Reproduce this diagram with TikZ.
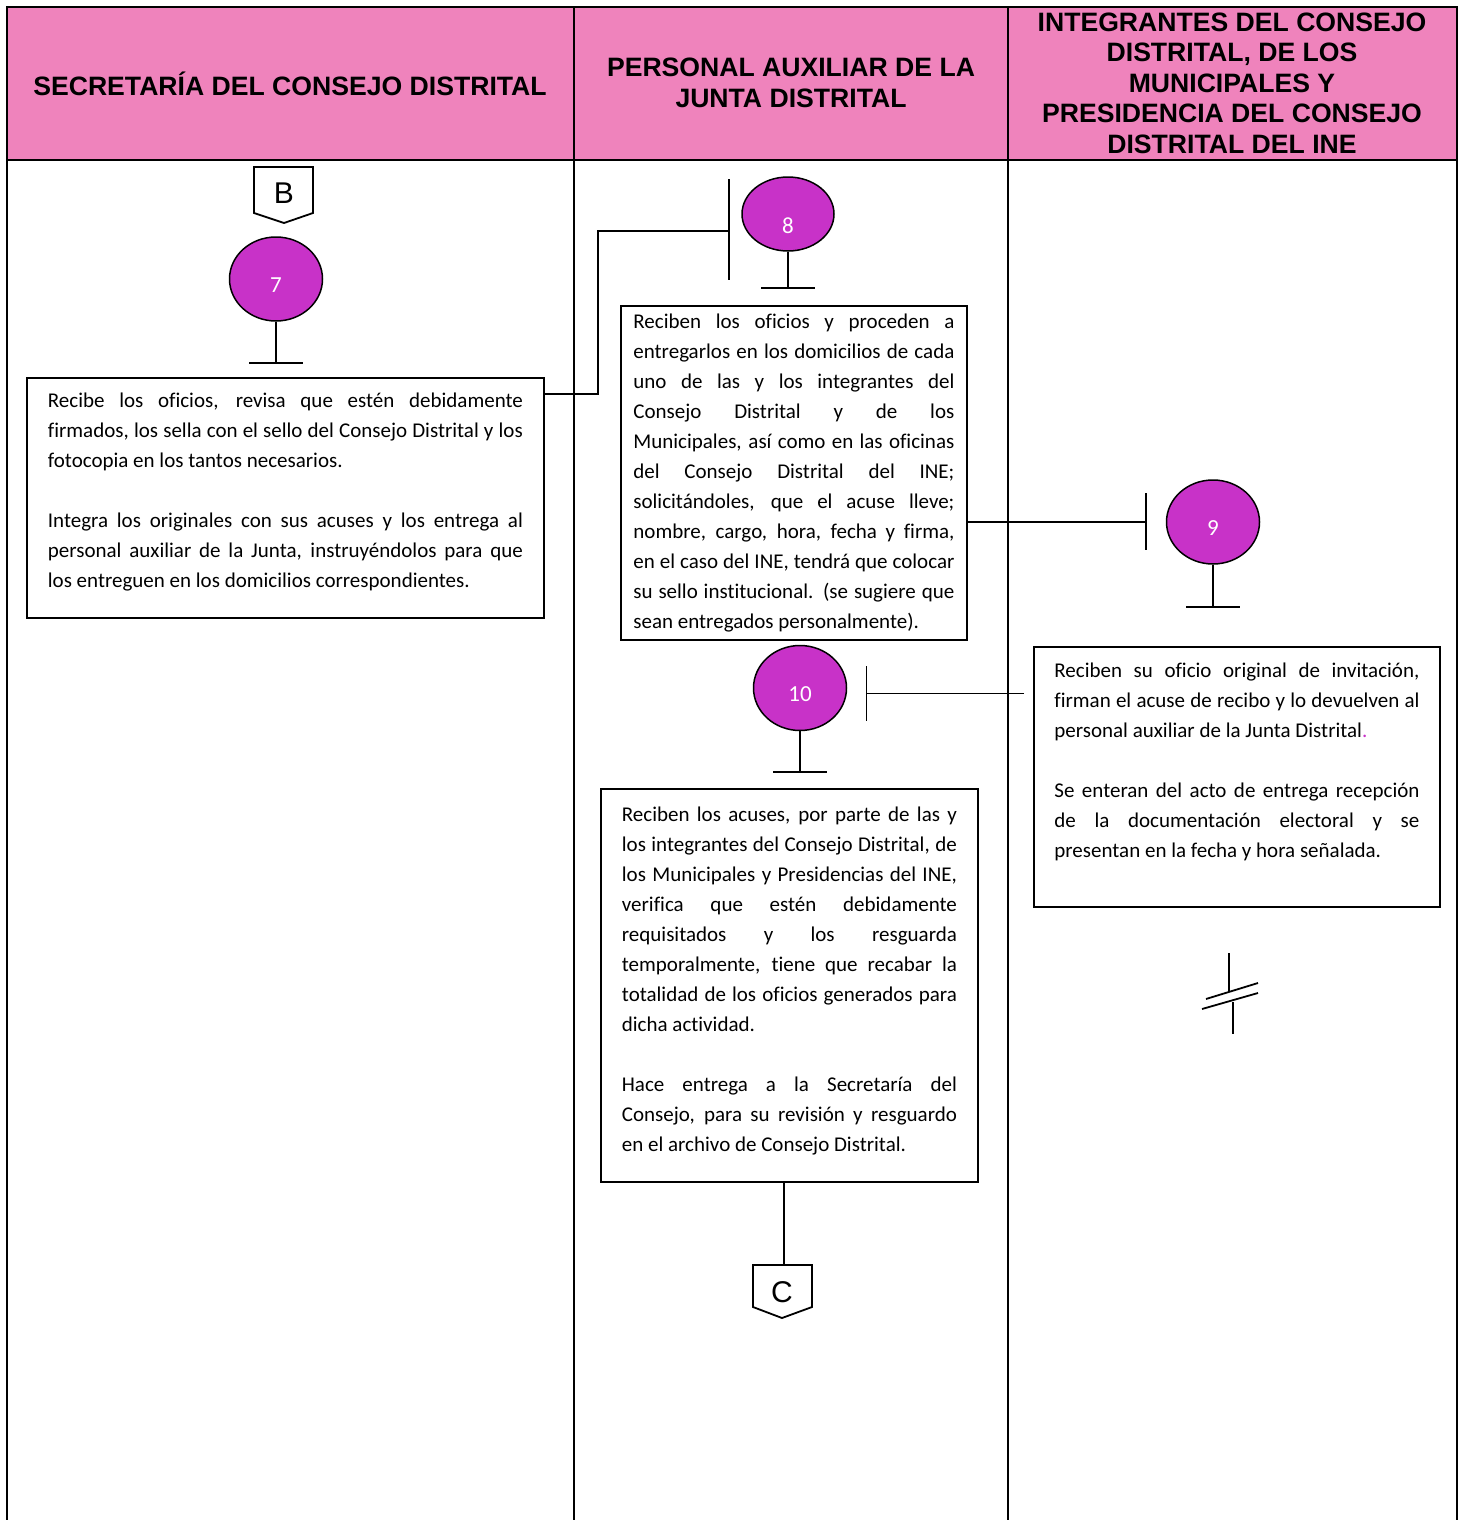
\documentclass[tikz,border=0pt]{standalone}
\usepackage{fontspec}
\usepackage{xcolor}
\usepackage{tikz}
\setmainfont{Liberation Sans}
\newfontfamily\calibri[Ligatures={NoCommon}]{Carlito}
\usetikzlibrary{shapes,positioning,calc}
\definecolor{rosa}{RGB}{239,131,188}
\definecolor{morado}{RGB}{200,50,200}
\setlength{\parindent}{0pt}
\tolerance=10000
\hyphenpenalty=10000

\begin{document}
\begin{tikzpicture}[x=1pt,y=-1pt,
    tabla/.style={line width=2pt},
    linea/.style={line width=1.8pt},
    fina/.style={line width=1pt},
    hdr/.style={align=center,font=\fontsize{26.6}{30.5}\selectfont\bfseries},
    paso/.style={ellipse,draw,line width=1.5pt,fill=morado,text=white,minimum width=93pt,minimum height=84pt,
        inner sep=0pt,text height=26pt,text depth=0pt,font=\calibri\fontsize{23}{23}\selectfont},
    proc/.style={draw,line width=1.8pt,anchor=north west,align=justify,inner ysep=8pt,
        font=\calibri\fontsize{21}{30}\selectfont},
    conector/.style={font=\fontsize{30}{30}\selectfont}]
    \useasboundingbox (0,0) rectangle (1460,1520);

    % Swimlanes
    \fill[rosa] (7,7) rectangle (1457,160);
    \draw[tabla] (7,1520) -- (7,7) -- (1457,7) -- (1457,1520);
    \draw[tabla] (7,160) -- (1457,160);
    \draw[tabla] (574,7) -- (574,1520);
    \draw[tabla] (1008,7) -- (1008,1520);
    \node[hdr] (h1) at (290,84) {SECRETARÍA DEL CONSEJO DISTRITAL};
    \node[hdr] (h2) at (791,83) {PERSONAL AUXILIAR DE LA\\JUNTA DISTRITAL};
    \node[hdr] (h3) at (1232,83) {INTEGRANTES DEL CONSEJO\\DISTRITAL, DE LOS\\MUNICIPALES Y\\PRESIDENCIA DEL CONSEJO\\DISTRITAL DEL INE};

    % Off-page connector B
    \node[conector] (B) at (284,193) {B};
    \draw[linea] (B) ++(-30,-26) -- ++(59,0) -- ++(0,46) -- ++(-29,10) -- ++(-30,-10) -- cycle;

    % Steps
    \node[paso] (s7) at (276,279) {7};
    \node[paso,minimum width=92pt,minimum height=74pt,text height=38pt] (s8) at (788,214) {8};
    \node[paso] (s9) at (1213,522) {9};
    \node[paso,minimum height=85pt] (s10) at (800,688) {10};
    \foreach \n/\l in {s7/41,s8/36,s9/42,s10/41} {
        \draw[linea] (\n.south) -- ++(0,\l) coordinate (t\n);
        \draw[linea] (t\n) ++(-27,0) -- ++(54,0);
    }

    % Activities
    \node[proc,text width=475pt,inner xsep=21pt,minimum height=240pt] (b1) at (26,377) {Recibe los oficios, revisa que estén debidamente\linebreak
        firmados, los sella con el sello del Consejo Distrital y los\linebreak
        fotocopia en los tantos necesarios.\par\vspace{30pt}
        Integra los originales con sus acuses y los entrega al\linebreak
        personal auxiliar de la Junta, instruyéndolos para que\linebreak
        los entreguen en los domicilios correspondientes.\rule[-15pt]{0pt}{1pt}};
    \node[proc,text width=321pt,inner xsep=12.5pt,minimum height=333pt] (b2) at (620,305) {Reciben los oficios y proceden a\linebreak
        entregarlos en los domicilios de cada\linebreak
        uno de las y los integrantes del\linebreak
        Consejo Distrital y de los\linebreak
        Municipales, así como en las oficinas\linebreak
        del Consejo Distrital del INE;\linebreak
        solicitándoles, que el acuse lleve;\linebreak
        nombre, cargo, hora, fecha y firma,\linebreak
        en el caso del INE, tendrá que colocar\linebreak
        su sello institucional. (se sugiere que\linebreak
        sean entregados personalmente).};
    \node[proc,text width=365pt,inner xsep=20.5pt,minimum height=260pt] (b3) at (1033,646) {Reciben su oficio original de invitación,\linebreak
        firman el acuse de recibo y lo devuelven al\linebreak
        personal auxiliar de la Junta Distrital{\color{morado}.}\par\vspace{30pt}
        Se enteran del acto de entrega recepción\linebreak
        de la documentación electoral y se\linebreak
        presentan en la fecha y hora señalada.\rule[-33pt]{0pt}{1pt}};
    \node[proc,text width=335pt,inner xsep=21pt,minimum height=393pt] (b4) at (600,788) {Reciben los acuses, por parte de las y\linebreak
        los integrantes del Consejo Distrital, de\linebreak
        los Municipales y Presidencias del INE,\linebreak
        verifica que estén debidamente\linebreak
        requisitados y los resguarda\linebreak
        temporalmente, tiene que recabar la\linebreak
        totalidad de los oficios generados para\linebreak
        dicha actividad.\par\vspace{30pt}
        Hace entrega a la Secretaría del\linebreak
        Consejo, para su revisión y resguardo\linebreak
        en el archivo de Consejo Distrital.\rule[-13pt]{0pt}{1pt}};

    % Connectors
    \coordinate (k8) at (729,231);
    \draw[linea] ($(b1.north east)+(0,17)$) -| ($(k8)+(-131,0)$) -- (k8);
    \draw[linea] (k8) ++(0,-52) -- ++(0,101);
    \coordinate (k9) at (1146,522);
    \draw[linea] (b2.east |- k9) -- (k9);
    \draw[linea] (k9) ++(0,-29) -- ++(0,57);
    \coordinate (k10) at (866,693);
    \draw[fina] ($(b3.west |- k10)+(-9,0)$) -- (k10);
    \draw[fina] (k10) ++(0,-27) -- ++(0,55);

    % Off-page connector C
    \node[conector] (C) at (782,1292) {C};
    \coordinate (Ctop) at (784,1265);
    \draw[linea] (b4.south -| Ctop) -- (Ctop);
    \draw[linea] (C) ++(-29,-27) -- ++(59,0) -- ++(0,42) -- ++(-30,11) -- ++(-29,-11) -- cycle;

    % End
    \coordinate (fin) at (1230,995);
    \draw[linea] (fin) ++(-1,-42) -- ++(0,39);
    \draw[linea] (fin) ++(-24,4) -- ++(52,-16);
    \draw[linea] (fin) ++(-28,14) -- ++(56,-16);
    \draw[linea] (fin) ++(3,7) -- ++(0,32);
\end{tikzpicture}
\end{document}
